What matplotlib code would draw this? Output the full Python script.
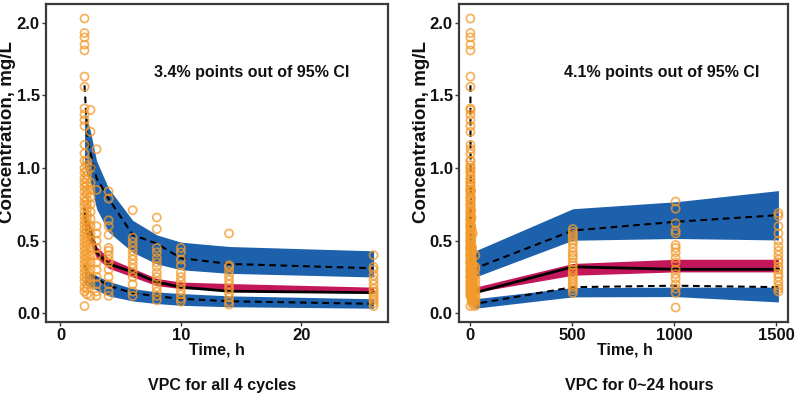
import matplotlib
matplotlib.use("Agg")
import matplotlib.pyplot as plt
import numpy as np

plt.rcParams['font.family'] = ['Liberation Sans', 'DejaVu Sans']

# ---------------- data ----------------
# cycle-1 prediction/observation summary times (h)
t_line = [2, 2.25, 2.5, 3, 4, 6, 8, 10, 14, 26]
median_obs = [0.72, 0.53, 0.57, 0.42, 0.34, 0.285, 0.215, 0.18, 0.152, 0.142]
upper_obs = [1.57, 1.20, 1.10, 0.93, 0.79, 0.54, 0.48, 0.38, 0.34, 0.31]
lower_obs = [0.33, 0.29, 0.27, 0.24, 0.19, 0.14, 0.117, 0.10, 0.083, 0.065]
upper_ci_hi = [1.40, 1.33, 1.25, 1.05, 0.86, 0.64, 0.54, 0.49, 0.46, 0.43]
upper_ci_lo = [1.00, 0.95, 0.90, 0.72, 0.56, 0.42, 0.34, 0.30, 0.275, 0.25]
med_ci_hi = [0.75, 0.65, 0.60, 0.46, 0.38, 0.31, 0.24, 0.215, 0.205, 0.18]
med_ci_lo = [0.60, 0.52, 0.48, 0.38, 0.31, 0.25, 0.19, 0.17, 0.16, 0.145]
lower_ci_hi = [0.33, 0.30, 0.28, 0.26, 0.22, 0.17, 0.147, 0.136, 0.12, 0.10]
lower_ci_lo = [0.20, 0.19, 0.18, 0.16, 0.12, 0.085, 0.067, 0.055, 0.045, 0.035]

# later cycles (trough samples)
t_late = [504, 1008, 1512]
median_late = [0.32, 0.303, 0.303]
upper_late = [0.57, 0.63, 0.676]
lower_late = [0.18, 0.19, 0.18]
upper_ci_hi_late = [0.72, 0.768, 0.845]
upper_ci_lo_late = [0.503, 0.515, 0.505]
med_ci_hi_late = [0.343, 0.372, 0.372]
med_ci_lo_late = [0.262, 0.285, 0.285]
lower_ci_hi_late = [0.177, 0.18, 0.18]
lower_ci_lo_late = [0.113, 0.115, 0.078]

# observed concentrations (mg/L) per sampling time
obs = {
    2: [2.03, 1.93, 1.90, 1.85, 1.81, 1.63, 1.56, 1.41, 1.37, 1.33, 1.29, 1.16, 1.10,
        1.05, 1.00, 0.97, 0.93, 0.90, 0.87, 0.84, 0.80, 0.77, 0.74, 0.70, 0.67, 0.64,
        0.61, 0.58, 0.55, 0.52, 0.49, 0.46, 0.43, 0.40, 0.37, 0.34, 0.31, 0.28, 0.25,
        0.22, 0.18, 0.15, 0.05],
    2.2: [1.05, 1.02, 0.98, 0.95, 0.92, 0.88, 0.85, 0.82, 0.78, 0.75, 0.72, 0.68,
          0.65, 0.62, 0.59, 0.56, 0.53, 0.50, 0.47, 0.44, 0.41, 0.38, 0.35, 0.32,
          0.29, 0.26, 0.23, 0.20, 0.17, 0.13],
    2.5: [1.40, 1.25, 1.00, 0.90, 0.85, 0.80, 0.75, 0.70, 0.65, 0.60, 0.55, 0.50,
          0.45, 0.40, 0.35, 0.30, 0.25, 0.20, 0.12],
    3: [1.13, 0.85, 0.60, 0.55, 0.50, 0.45, 0.40, 0.35, 0.30, 0.25, 0.20, 0.15, 0.12],
    4: [0.84, 0.79, 0.64, 0.60, 0.54, 0.45, 0.43, 0.40, 0.37, 0.35, 0.30, 0.25, 0.20,
        0.15, 0.12],
    6: [0.71, 0.52, 0.49, 0.46, 0.43, 0.40, 0.37, 0.34, 0.31, 0.28, 0.25, 0.20, 0.15,
        0.12],
    8: [0.66, 0.58, 0.45, 0.42, 0.38, 0.35, 0.32, 0.28, 0.25, 0.22, 0.18, 0.15, 0.12,
        0.09],
    10: [0.45, 0.42, 0.37, 0.33, 0.28, 0.25, 0.22, 0.19, 0.16, 0.13, 0.10, 0.08],
    14: [0.55, 0.33, 0.32, 0.29, 0.26, 0.23, 0.20, 0.17, 0.14, 0.11, 0.08, 0.06],
    26: [0.40, 0.32, 0.30, 0.26, 0.23, 0.20, 0.17, 0.15, 0.13, 0.11, 0.09, 0.07, 0.05],
}
obs_late = {
    504: [0.58, 0.56, 0.54, 0.52, 0.50, 0.48, 0.45, 0.42, 0.40, 0.38, 0.35, 0.33,
          0.30, 0.28, 0.26, 0.24, 0.22, 0.20, 0.18, 0.16, 0.14],
    1008: [0.77, 0.72, 0.62, 0.57, 0.55, 0.47, 0.45, 0.42, 0.38, 0.35, 0.30, 0.27,
           0.24, 0.20, 0.17, 0.14, 0.04],
    1512: [0.69, 0.67, 0.60, 0.55, 0.50, 0.46, 0.43, 0.40, 0.37, 0.35, 0.32, 0.30,
           0.27, 0.25, 0.22, 0.19, 0.17, 0.15],
}

panel_notes = ["3.4% points out of 95% CI", "4.1% points out of 95% CI"]
panel_titles = ["VPC for all 4 cycles", "VPC for 0~24 hours"]
x_label = "Time, h"
y_label = "Concentration, mg/L"
y_ticks = [0.0, 0.5, 1.0, 1.5, 2.0]
x_ticks_left = [0, 10, 20]
x_ticks_right = [0, 500, 1000, 1500]

# ---------------- styling ----------------
BLUE = "#1d61ad"
MAGENTA = "#c2185b"
ORANGE = "#f39a2c"

W, H = 800, 415
fig = plt.figure(figsize=(W / 100, H / 100), dpi=100)


def ax_rect(x0, x1, y0, y1):
    return [x0 / W, 1 - y1 / H, (x1 - x0) / W, (y1 - y0) / H]


def draw(ax, t, med, up, lo, uhi, ulo, mhi, mlo, lhi, llo, points):
    ax.fill_between(t, ulo, uhi, color=BLUE, lw=0, zorder=1)
    ax.fill_between(t, mlo, mhi, color=MAGENTA, lw=0, zorder=1)
    ax.fill_between(t, llo, lhi, color=BLUE, lw=0, zorder=1)
    ax.plot(t, up, color="black", lw=1.5, ls=(0, (3.2, 2.2)), zorder=2)
    ax.plot(t, lo, color="black", lw=1.5, ls=(0, (3.2, 2.2)), zorder=2)
    ax.plot(t, med, color="black", lw=2.0, zorder=2)
    for tt, vals in points.items():
        ax.scatter([tt] * len(vals), vals, s=34, facecolors="none",
                   edgecolors=ORANGE, linewidths=1.3, alpha=0.75, zorder=3)


def style(ax, xlim, xticks):
    ax.set_xlim(*xlim)
    ax.set_ylim(-0.06, 2.13)
    ax.set_xticks(xticks)
    ax.set_yticks(y_ticks)
    ax.set_yticklabels([f"{v:.1f}" for v in y_ticks])
    for s in ax.spines.values():
        s.set_color("#3a3a3a")
        s.set_linewidth(1.6)
    ax.tick_params(axis="both", length=3, width=1, color="#3a3a3a",
                   labelsize=12, pad=1.5)
    for lab in ax.get_xticklabels() + ax.get_yticklabels():
        lab.set_fontweight("bold")
        lab.set_color("#111111")


# left panel
axL = fig.add_axes(ax_rect(46, 388, 4, 322))
draw(axL, t_line, median_obs, upper_obs, lower_obs, upper_ci_hi, upper_ci_lo,
     med_ci_hi, med_ci_lo, lower_ci_hi, lower_ci_lo, obs)
style(axL, (-1.2, 27.2), x_ticks_left)

# right panel (all cycles)
t_all = t_line + t_late
allpts = dict(obs)
allpts.update(obs_late)
axR = fig.add_axes(ax_rect(459, 788, 4, 322))
draw(axR, t_all, median_obs + median_late, upper_obs + upper_late,
     lower_obs + lower_late, upper_ci_hi + upper_ci_hi_late,
     upper_ci_lo + upper_ci_lo_late, med_ci_hi + med_ci_hi_late,
     med_ci_lo + med_ci_lo_late, lower_ci_hi + lower_ci_hi_late,
     lower_ci_lo + lower_ci_lo_late, allpts)
style(axR, (-54, 1559), x_ticks_right)

txt = dict(fontweight="bold", color="#111111")
# annotations
fig.text(252 / W, 1 - 72 / H, panel_notes[0], ha="center", va="center",
         fontsize=11.5, **txt)
fig.text(662 / W, 1 - 72 / H, panel_notes[1], ha="center", va="center",
         fontsize=11.5, **txt)
# axis labels
for xc in (217, 625):
    fig.text(xc / W, 1 - 350 / H, x_label, ha="center", va="center",
             fontsize=11.5, **txt)
for xc in (8, 421):
    fig.text(xc / W, 1 - 132 / H, y_label, ha="center", va="center",
             rotation=90, fontsize=13.5, **txt)
# bottom titles
fig.text(222 / W, 1 - 385 / H, panel_titles[0], ha="center", va="center",
         fontsize=11.5, **txt)
fig.text(639 / W, 1 - 385 / H, panel_titles[1], ha="center", va="center",
         fontsize=11.5, **txt)

fig.savefig("out.png", dpi=100)
